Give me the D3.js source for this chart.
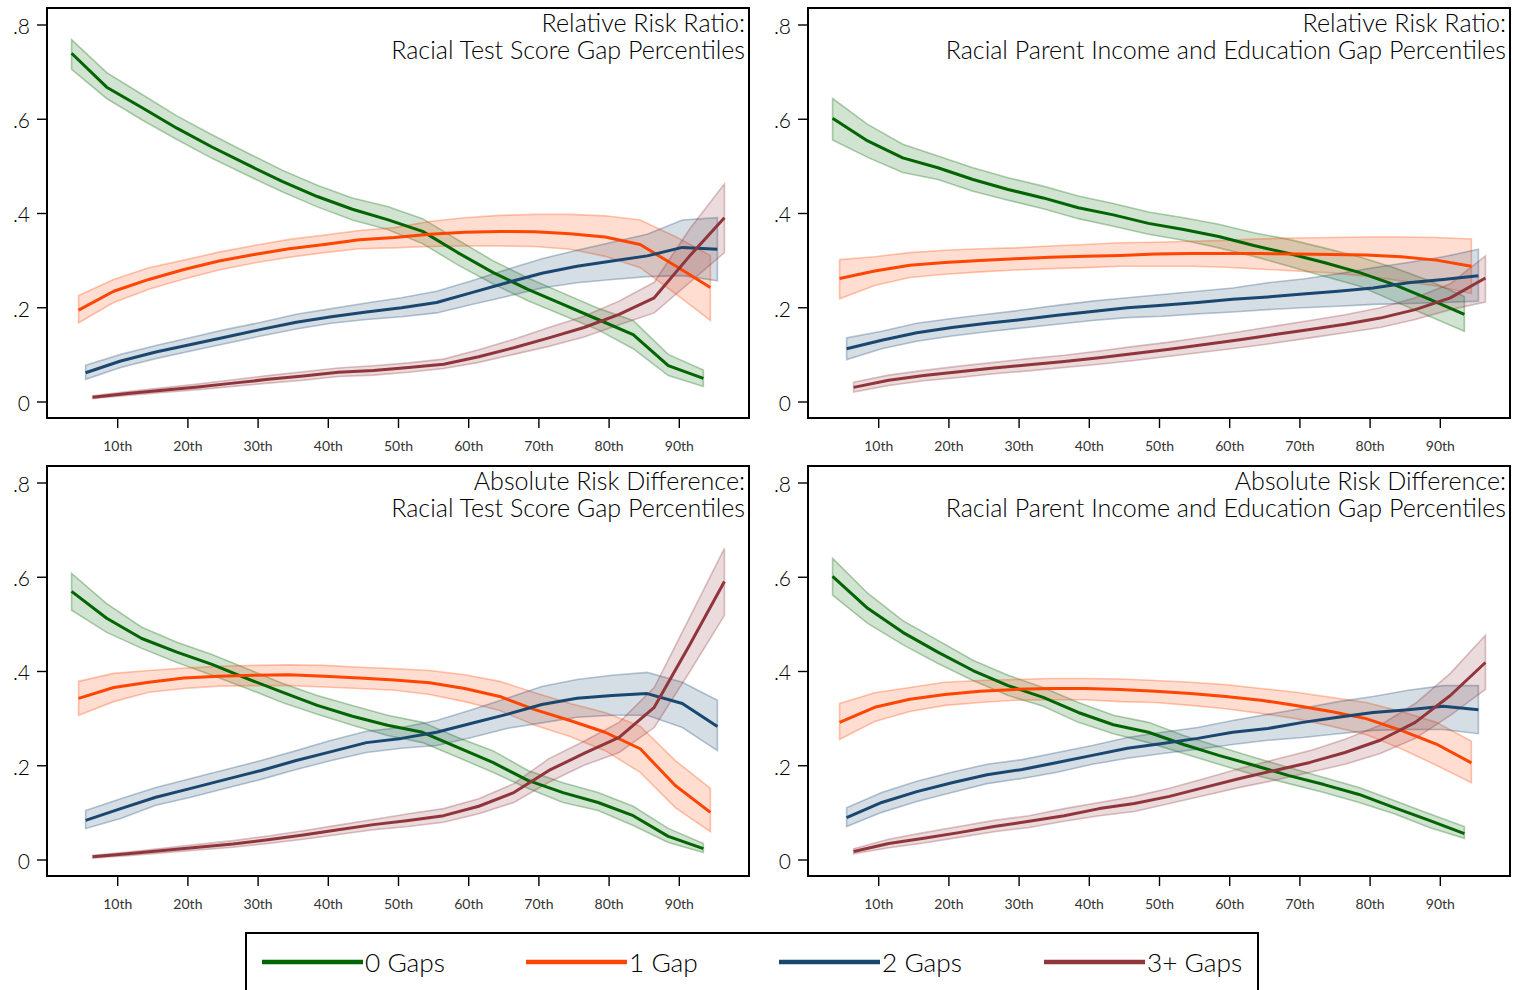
<!DOCTYPE html>
<html>
<head>
<meta charset="utf-8">
<script src="https://cdn.jsdelivr.net/npm/d3@7/dist/d3.min.js"></script>
<style>
  html, body { margin: 0; padding: 0; background: #ffffff; }
  svg { display: block; }
  text { font-family: Lato, "Open Sans", "DejaVu Sans", sans-serif; }
</style>
</head>
<body>
<svg id="chart" width="1513" height="990"></svg>
<script>
// ---------- categories ----------
const percentiles = [5, 10, 15, 20, 25, 30, 35, 40, 45, 50, 55, 60, 65, 70, 75, 80, 85, 90, 95];
const groups = ["0 Gaps", "1 Gap", "2 Gaps", "3+ Gaps"];
const groupColors = ["#006400", "#ff4500", "#1a476f", "#90353b"];
const groupDodge = [-1.5, -0.5, 0.5, 1.5];   // horizontal offset of each group, in percentile points

const xTicks = [10, 20, 30, 40, 50, 60, 70, 80, 90];
const xTickLabels = ["10th", "20th", "30th", "40th", "50th", "60th", "70th", "80th", "90th"];
const yTicks = [0, 0.2, 0.4, 0.6, 0.8];
const yTickLabels = ["0", ".2", ".4", ".6", ".8"];

const panelTitles = [
  ["Relative Risk Ratio:", "Racial Test Score Gap Percentiles"],
  ["Relative Risk Ratio:", "Racial Parent Income and Education Gap Percentiles"],
  ["Absolute Risk Difference:", "Racial Test Score Gap Percentiles"],
  ["Absolute Risk Difference:", "Racial Parent Income and Education Gap Percentiles"]
];

// ---------- Relative risk ratio, test score gap ----------
const rrScoreMean = [
  [0.739, 0.667, 0.624, 0.580, 0.540, 0.503, 0.467, 0.435, 0.408, 0.386, 0.361, 0.316, 0.274, 0.238, 0.206, 0.174, 0.142, 0.076, 0.049],
  [0.194, 0.234, 0.259, 0.280, 0.298, 0.312, 0.324, 0.333, 0.343, 0.348, 0.355, 0.359, 0.361, 0.360, 0.356, 0.349, 0.333, 0.288, 0.242],
  [0.061, 0.086, 0.105, 0.121, 0.137, 0.153, 0.168, 0.180, 0.190, 0.199, 0.210, 0.231, 0.252, 0.272, 0.287, 0.298, 0.309, 0.327, 0.323],
  [0.009, 0.017, 0.024, 0.031, 0.039, 0.047, 0.054, 0.062, 0.066, 0.072, 0.079, 0.095, 0.114, 0.135, 0.157, 0.185, 0.220, 0.308, 0.390]
];
const rrScoreLo = [
  [0.705, 0.643, 0.598, 0.556, 0.516, 0.480, 0.445, 0.413, 0.385, 0.365, 0.335, 0.290, 0.250, 0.214, 0.183, 0.152, 0.112, 0.055, 0.032],
  [0.167, 0.210, 0.238, 0.260, 0.279, 0.294, 0.306, 0.316, 0.324, 0.326, 0.329, 0.330, 0.330, 0.329, 0.323, 0.308, 0.284, 0.229, 0.172],
  [0.047, 0.072, 0.091, 0.107, 0.123, 0.139, 0.154, 0.166, 0.174, 0.180, 0.188, 0.206, 0.223, 0.241, 0.252, 0.259, 0.265, 0.267, 0.256],
  [0.006, 0.013, 0.019, 0.025, 0.032, 0.039, 0.045, 0.053, 0.056, 0.062, 0.070, 0.083, 0.100, 0.117, 0.137, 0.163, 0.188, 0.252, 0.316]
];
const rrScoreHi = [
  [0.768, 0.698, 0.652, 0.606, 0.566, 0.528, 0.491, 0.459, 0.432, 0.414, 0.388, 0.343, 0.299, 0.262, 0.230, 0.198, 0.172, 0.100, 0.067],
  [0.225, 0.259, 0.284, 0.300, 0.317, 0.331, 0.344, 0.353, 0.363, 0.369, 0.382, 0.390, 0.395, 0.397, 0.397, 0.394, 0.385, 0.350, 0.310],
  [0.077, 0.100, 0.119, 0.136, 0.153, 0.168, 0.185, 0.197, 0.209, 0.220, 0.234, 0.256, 0.280, 0.303, 0.321, 0.338, 0.355, 0.385, 0.390],
  [0.012, 0.021, 0.029, 0.037, 0.046, 0.055, 0.063, 0.071, 0.076, 0.082, 0.090, 0.110, 0.132, 0.157, 0.181, 0.213, 0.253, 0.365, 0.462]
];

// ---------- Relative risk ratio, parent income and education gap ----------
const rrParentMean = [
  [0.601, 0.553, 0.517, 0.496, 0.471, 0.450, 0.432, 0.411, 0.396, 0.378, 0.365, 0.350, 0.331, 0.314, 0.295, 0.274, 0.248, 0.217, 0.185],
  [0.261, 0.277, 0.289, 0.295, 0.299, 0.303, 0.306, 0.308, 0.310, 0.313, 0.314, 0.314, 0.314, 0.313, 0.312, 0.311, 0.307, 0.300, 0.287],
  [0.112, 0.130, 0.146, 0.157, 0.166, 0.174, 0.183, 0.191, 0.199, 0.204, 0.210, 0.217, 0.222, 0.228, 0.234, 0.241, 0.252, 0.259, 0.267],
  [0.030, 0.045, 0.055, 0.063, 0.071, 0.078, 0.085, 0.093, 0.102, 0.111, 0.121, 0.131, 0.142, 0.153, 0.164, 0.177, 0.195, 0.220, 0.262]
];
const rrParentLo = [
  [0.555, 0.518, 0.486, 0.471, 0.446, 0.427, 0.409, 0.388, 0.372, 0.355, 0.342, 0.326, 0.308, 0.287, 0.266, 0.245, 0.213, 0.181, 0.149],
  [0.218, 0.246, 0.263, 0.270, 0.275, 0.279, 0.282, 0.284, 0.287, 0.287, 0.287, 0.285, 0.281, 0.277, 0.273, 0.266, 0.256, 0.245, 0.229],
  [0.089, 0.112, 0.128, 0.139, 0.148, 0.156, 0.164, 0.172, 0.178, 0.181, 0.186, 0.190, 0.195, 0.199, 0.202, 0.206, 0.208, 0.210, 0.213],
  [0.020, 0.034, 0.044, 0.051, 0.059, 0.065, 0.072, 0.079, 0.087, 0.096, 0.105, 0.114, 0.124, 0.135, 0.146, 0.157, 0.174, 0.195, 0.211]
];
const rrParentHi = [
  [0.643, 0.588, 0.546, 0.521, 0.496, 0.475, 0.457, 0.436, 0.420, 0.402, 0.390, 0.376, 0.358, 0.344, 0.326, 0.307, 0.284, 0.256, 0.223],
  [0.301, 0.307, 0.316, 0.321, 0.324, 0.326, 0.330, 0.333, 0.337, 0.338, 0.340, 0.342, 0.345, 0.347, 0.348, 0.349, 0.349, 0.348, 0.345],
  [0.135, 0.149, 0.166, 0.176, 0.185, 0.194, 0.204, 0.213, 0.220, 0.227, 0.234, 0.241, 0.252, 0.260, 0.271, 0.284, 0.295, 0.307, 0.323],
  [0.041, 0.056, 0.066, 0.075, 0.083, 0.091, 0.098, 0.107, 0.117, 0.126, 0.137, 0.148, 0.160, 0.172, 0.184, 0.199, 0.220, 0.250, 0.309]
];

// ---------- Absolute risk difference, test score gap ----------
const ardScoreMean = [
  [0.569, 0.512, 0.469, 0.440, 0.414, 0.384, 0.355, 0.327, 0.304, 0.285, 0.270, 0.238, 0.206, 0.168, 0.142, 0.121, 0.093, 0.049, 0.023],
  [0.342, 0.365, 0.376, 0.385, 0.389, 0.391, 0.392, 0.389, 0.385, 0.381, 0.375, 0.363, 0.346, 0.318, 0.295, 0.270, 0.235, 0.157, 0.100],
  [0.083, 0.108, 0.132, 0.151, 0.170, 0.189, 0.210, 0.229, 0.248, 0.257, 0.270, 0.289, 0.308, 0.329, 0.342, 0.348, 0.352, 0.331, 0.282],
  [0.006, 0.012, 0.019, 0.026, 0.033, 0.042, 0.052, 0.063, 0.074, 0.083, 0.093, 0.113, 0.142, 0.189, 0.225, 0.259, 0.323, 0.454, 0.590]
];
const ardScoreLo = [
  [0.529, 0.482, 0.448, 0.418, 0.391, 0.363, 0.333, 0.308, 0.285, 0.263, 0.248, 0.217, 0.185, 0.151, 0.121, 0.104, 0.072, 0.036, 0.015],
  [0.306, 0.335, 0.355, 0.363, 0.368, 0.369, 0.369, 0.366, 0.363, 0.359, 0.350, 0.335, 0.316, 0.285, 0.261, 0.231, 0.185, 0.110, 0.059],
  [0.066, 0.087, 0.115, 0.132, 0.151, 0.170, 0.191, 0.210, 0.227, 0.236, 0.242, 0.259, 0.278, 0.290, 0.302, 0.306, 0.306, 0.280, 0.231],
  [0.003, 0.008, 0.014, 0.020, 0.026, 0.034, 0.043, 0.053, 0.063, 0.070, 0.079, 0.097, 0.121, 0.164, 0.200, 0.227, 0.280, 0.397, 0.518]
];
const ardScoreHi = [
  [0.607, 0.543, 0.493, 0.461, 0.435, 0.405, 0.374, 0.348, 0.327, 0.306, 0.291, 0.259, 0.231, 0.189, 0.163, 0.142, 0.113, 0.066, 0.034],
  [0.378, 0.395, 0.401, 0.406, 0.410, 0.412, 0.413, 0.412, 0.408, 0.405, 0.401, 0.392, 0.378, 0.354, 0.331, 0.312, 0.283, 0.210, 0.151],
  [0.104, 0.129, 0.153, 0.172, 0.191, 0.210, 0.231, 0.253, 0.272, 0.280, 0.295, 0.318, 0.342, 0.367, 0.382, 0.391, 0.397, 0.376, 0.338],
  [0.009, 0.016, 0.024, 0.032, 0.040, 0.050, 0.061, 0.073, 0.085, 0.097, 0.108, 0.129, 0.161, 0.214, 0.251, 0.291, 0.365, 0.512, 0.660]
];

// ---------- Absolute risk difference, parent income and education gap ----------
const ardParentMean = [
  [0.601, 0.533, 0.482, 0.440, 0.401, 0.369, 0.344, 0.312, 0.286, 0.270, 0.244, 0.221, 0.200, 0.178, 0.159, 0.138, 0.110, 0.083, 0.055],
  [0.291, 0.323, 0.340, 0.350, 0.357, 0.361, 0.363, 0.363, 0.361, 0.357, 0.352, 0.346, 0.338, 0.327, 0.314, 0.299, 0.274, 0.245, 0.205],
  [0.089, 0.121, 0.144, 0.163, 0.180, 0.191, 0.206, 0.221, 0.236, 0.246, 0.257, 0.270, 0.278, 0.291, 0.302, 0.312, 0.318, 0.325, 0.318],
  [0.017, 0.034, 0.045, 0.057, 0.070, 0.081, 0.093, 0.108, 0.119, 0.134, 0.153, 0.172, 0.189, 0.206, 0.227, 0.253, 0.291, 0.348, 0.418]
];
const ardParentLo = [
  [0.561, 0.501, 0.456, 0.416, 0.380, 0.348, 0.325, 0.291, 0.267, 0.248, 0.225, 0.202, 0.180, 0.161, 0.142, 0.121, 0.097, 0.068, 0.045],
  [0.255, 0.293, 0.314, 0.327, 0.333, 0.338, 0.339, 0.339, 0.335, 0.333, 0.327, 0.320, 0.310, 0.299, 0.283, 0.265, 0.235, 0.200, 0.163],
  [0.070, 0.100, 0.123, 0.142, 0.161, 0.172, 0.185, 0.202, 0.215, 0.225, 0.234, 0.244, 0.253, 0.259, 0.267, 0.274, 0.276, 0.276, 0.267],
  [0.012, 0.025, 0.035, 0.047, 0.059, 0.068, 0.081, 0.093, 0.102, 0.119, 0.136, 0.153, 0.168, 0.185, 0.202, 0.225, 0.257, 0.306, 0.361]
];
const ardParentHi = [
  [0.639, 0.565, 0.507, 0.465, 0.423, 0.391, 0.365, 0.333, 0.306, 0.291, 0.263, 0.240, 0.217, 0.195, 0.174, 0.153, 0.125, 0.097, 0.070],
  [0.331, 0.354, 0.365, 0.376, 0.380, 0.382, 0.384, 0.384, 0.383, 0.380, 0.376, 0.371, 0.363, 0.355, 0.344, 0.333, 0.314, 0.291, 0.251],
  [0.110, 0.142, 0.166, 0.185, 0.202, 0.212, 0.227, 0.242, 0.259, 0.270, 0.280, 0.295, 0.308, 0.321, 0.335, 0.346, 0.359, 0.369, 0.369],
  [0.023, 0.043, 0.057, 0.070, 0.083, 0.093, 0.108, 0.121, 0.134, 0.151, 0.172, 0.193, 0.212, 0.231, 0.255, 0.285, 0.331, 0.395, 0.476]
];

// ---------- layout ----------
const svg = d3.select("#chart");
const cols = [[47, 749], [808, 1510]];
const rows = [[8, 418], [466, 876]];
const panelData = [
  { mean: rrScoreMean,   lo: rrScoreLo,   hi: rrScoreHi },
  { mean: rrParentMean,  lo: rrParentLo,  hi: rrParentHi },
  { mean: ardScoreMean,  lo: ardScoreLo,  hi: ardScoreHi },
  { mean: ardParentMean, lo: ardParentLo, hi: ardParentHi }
];

// helper: scale a text's font size so its rendered width hits a target
function fitFontSize(text, weight, target) {
  const probe = svg.append("text").attr("font-size", 100).attr("font-weight", weight).text(text);
  const w = probe.node().getComputedTextLength();
  probe.remove();
  return 100 * target / w;
}
const titleSize = fitFontSize("Racial Test Score Gap Percentiles", 300, 354);
const legendSize = fitFontSize("0 Gaps", 300, 80);

panelData.forEach((pd, i) => {
  const [x0, x1] = cols[i % 2];
  const [y0, y1] = rows[Math.floor(i / 2)];
  const x = d3.scaleLinear().domain([0, 100]).range([x0, x1]);
  const y = d3.scaleLinear().domain([0, 0.8]).range([y1 - 16.5, y0 + 16.5]);
  const g = svg.append("g");

  // confidence bands
  groups.forEach((name, s) => {
    const pts = percentiles.map((p, k) => ({ x: p + groupDodge[s], lo: pd.lo[s][k], hi: pd.hi[s][k] }));
    const ring = pts.map(d => [x(d.x), y(d.hi)]).concat(pts.slice().reverse().map(d => [x(d.x), y(d.lo)]));
    g.append("path")
      .attr("d", d3.line().curve(d3.curveLinearClosed)(ring))
      .attr("fill", groupColors[s])
      .attr("fill-opacity", 0.18)
      .attr("stroke", groupColors[s])
      .attr("stroke-opacity", 0.3)
      .attr("stroke-width", 1.6);
  });

  // point-estimate lines
  const line = d3.line().x(d => x(d.x)).y(d => y(d.v));
  groups.forEach((name, s) => {
    const pts = percentiles.map((p, k) => ({ x: p + groupDodge[s], v: pd.mean[s][k] }));
    g.append("path")
      .attr("d", line(pts))
      .attr("fill", "none")
      .attr("stroke", groupColors[s])
      .attr("stroke-width", 3)
      .attr("stroke-linejoin", "round");
  });

  // axes
  const yAxis = g.append("g").attr("transform", `translate(${x0},0)`)
    .call(d3.axisLeft(y).tickValues(yTicks).tickFormat((d, k) => yTickLabels[k]).tickSize(10).tickPadding(7));
  yAxis.select(".domain").remove();
  yAxis.selectAll("line").attr("stroke", "#000").attr("stroke-width", 1.4);
  yAxis.selectAll("text").attr("font-family", "Lato, 'Open Sans', sans-serif").attr("font-size", 21)
    .attr("font-weight", 300).attr("fill", "#000").attr("dy", "0.42em");

  const xAxis = g.append("g").attr("transform", `translate(0,${y1})`)
    .call(d3.axisBottom(x).tickValues(xTicks).tickFormat((d, k) => xTickLabels[k]).tickSize(10).tickPadding(13));
  xAxis.select(".domain").remove();
  xAxis.selectAll("line").attr("stroke", "#000").attr("stroke-width", 1.4);
  xAxis.selectAll("text").attr("font-family", "Lato, 'Open Sans', sans-serif").attr("font-size", 14)
    .attr("fill", "#333");

  // frame
  g.append("rect")
    .attr("x", x0).attr("y", y0).attr("width", x1 - x0).attr("height", y1 - y0)
    .attr("fill", "none").attr("stroke", "#000").attr("stroke-width", 2);

  // two-line title, right aligned in the upper corner
  const title = g.append("text")
    .attr("text-anchor", "end")
    .attr("font-size", titleSize)
    .attr("font-weight", 300)
    .attr("fill", "#000");
  panelTitles[i].forEach((t, k) => {
    title.append("tspan")
      .attr("x", x1 - 4).attr("y", y0 + 24 + k * 26.5)
      .text(t);
  });
});

// ---------- legend ----------
const legend = svg.append("g");
legend.append("rect")
  .attr("x", 246).attr("y", 933).attr("width", 1012).attr("height", 80)
  .attr("fill", "#fff").attr("stroke", "#000").attr("stroke-width", 2);
const legendStarts = [262, 526, 779, 1044];
groups.forEach((name, s) => {
  const lx = legendStarts[s];
  legend.append("line")
    .attr("x1", lx).attr("x2", lx + 101).attr("y1", 962).attr("y2", 962)
    .attr("stroke", groupColors[s]).attr("stroke-width", 4.5);
  legend.append("text")
    .attr("x", lx + 103).attr("y", 972)
    .attr("font-size", legendSize)
    .attr("font-weight", 300)
    .attr("fill", "#000")
    .text(name);
});
</script>
</body>
</html>
